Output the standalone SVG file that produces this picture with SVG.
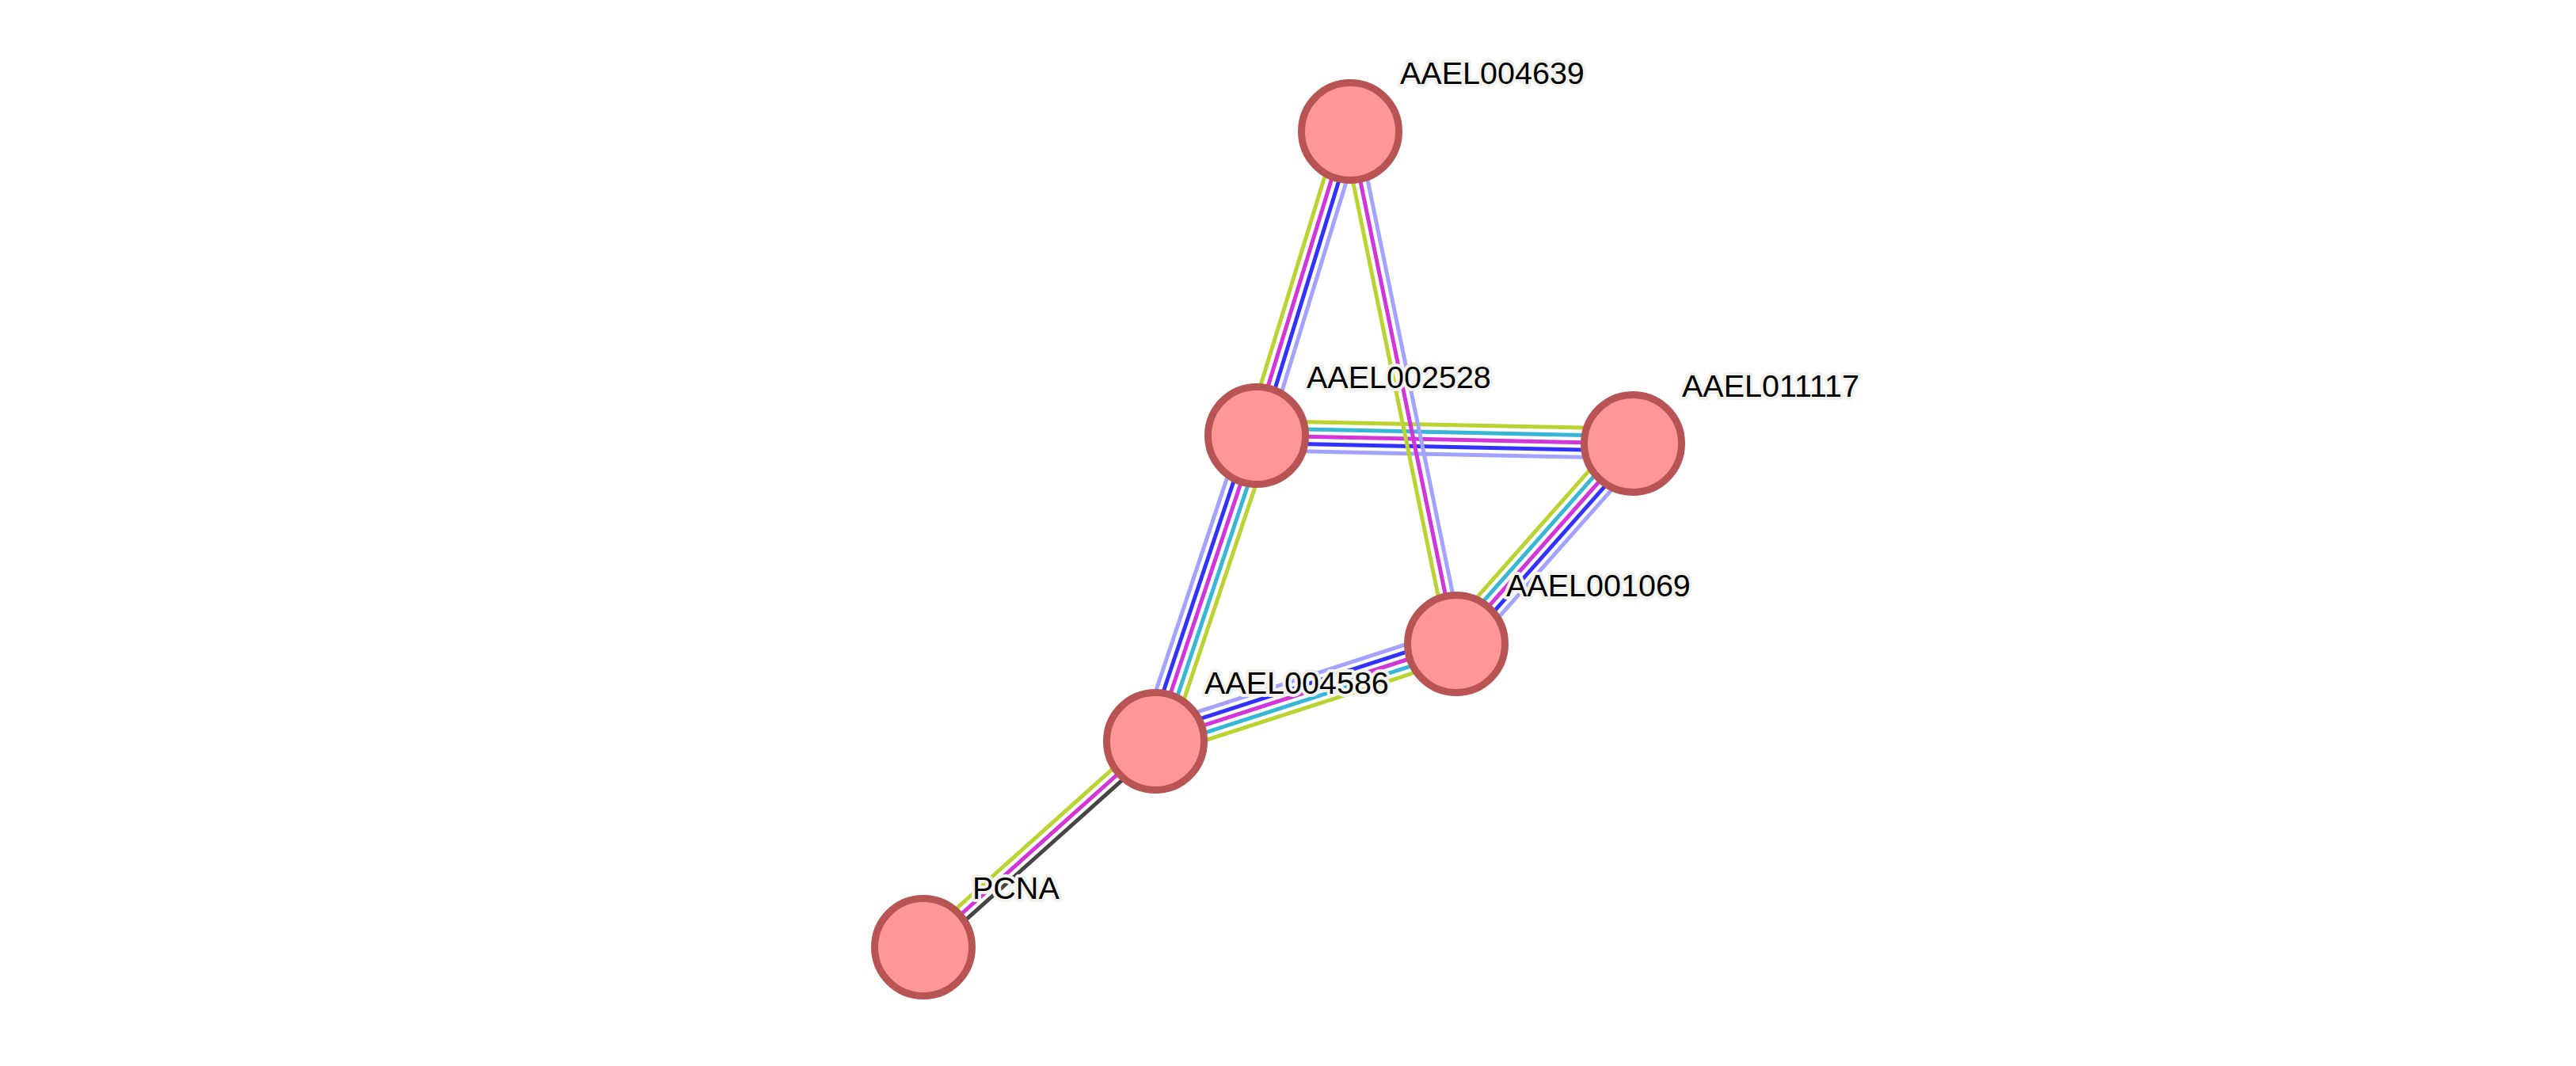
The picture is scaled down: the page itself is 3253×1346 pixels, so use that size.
<svg xmlns="http://www.w3.org/2000/svg" width="3253" height="1346" viewBox="0 0 3253 1346">
<style>
.e line{stroke-width:5;fill:none}
.g{stroke:#BBD331}.c{stroke:#38B6D6}.m{stroke:#D235D8}.b{stroke:#3232FF}.l{stroke:#A3A3FF}.k{stroke:#454545}
.n circle{fill:#FF9797;stroke:#B95454;stroke-width:9}
.n text{font-family:"Liberation Sans",Arial,sans-serif;font-size:39.5px;fill:#000;stroke:#F3F3EE;stroke-width:8;stroke-linejoin:round;paint-order:stroke}
</style>
<rect width="3253" height="1346" fill="#fff"/>
<g id="edges" class="e">
  <g id="e-4639-2528" transform="translate(1705,166) rotate(107.08)">
    <line class="g" x1="0" y1="14" x2="401.7" y2="14"/>
    <line class="m" x1="0" y1="4.7" x2="401.7" y2="4.7"/>
    <line class="b" x1="0" y1="-4.7" x2="401.7" y2="-4.7"/>
    <line class="l" x1="0" y1="-14" x2="401.7" y2="-14"/>
  </g>
  <g id="e-2528-11117" transform="translate(1587,550) rotate(1.21)">
    <line class="g" x1="0" y1="-18.6" x2="475.1" y2="-18.6"/>
    <line class="c" x1="0" y1="-9.3" x2="475.1" y2="-9.3"/>
    <line class="m" x1="0" y1="0" x2="475.1" y2="0"/>
    <line class="b" x1="0" y1="9.3" x2="475.1" y2="9.3"/>
    <line class="l" x1="0" y1="18.6" x2="475.1" y2="18.6"/>
  </g>
  <g id="e-4639-1069" transform="translate(1705,166) rotate(78.38)">
    <line class="g" x1="0" y1="9.3" x2="660.5" y2="9.3"/>
    <line class="m" x1="0" y1="0" x2="660.5" y2="0"/>
    <line class="l" x1="0" y1="-9.3" x2="660.5" y2="-9.3"/>
  </g>
  <g id="e-2528-4586" transform="translate(1587,550) rotate(108.48)">
    <line class="l" x1="0" y1="18.6" x2="407" y2="18.6"/>
    <line class="b" x1="0" y1="9.3" x2="407" y2="9.3"/>
    <line class="m" x1="0" y1="0" x2="407" y2="0"/>
    <line class="c" x1="0" y1="-9.3" x2="407" y2="-9.3"/>
    <line class="g" x1="0" y1="-18.6" x2="407" y2="-18.6"/>
  </g>
  <g id="e-11117-1069" transform="translate(2062,560) rotate(131.52)">
    <line class="g" x1="0" y1="18.6" x2="337.9" y2="18.6"/>
    <line class="c" x1="0" y1="9.3" x2="337.9" y2="9.3"/>
    <line class="m" x1="0" y1="0" x2="337.9" y2="0"/>
    <line class="b" x1="0" y1="-9.3" x2="337.9" y2="-9.3"/>
    <line class="l" x1="0" y1="-18.6" x2="337.9" y2="-18.6"/>
  </g>
  <g id="e-4586-1069" transform="translate(1458,936) rotate(-17.94)">
    <line class="l" x1="0" y1="-18.6" x2="399.4" y2="-18.6"/>
    <line class="b" x1="0" y1="-9.3" x2="399.4" y2="-9.3"/>
    <line class="m" x1="0" y1="0" x2="399.4" y2="0"/>
    <line class="c" x1="0" y1="9.3" x2="399.4" y2="9.3"/>
    <line class="g" x1="0" y1="18.6" x2="399.4" y2="18.6"/>
  </g>
  <g id="e-4586-pcna" transform="translate(1458,936) rotate(138.21)">
    <line class="g" x1="0" y1="9.3" x2="391.6" y2="9.3"/>
    <line class="m" x1="0" y1="0" x2="391.6" y2="0"/>
    <line class="k" x1="0" y1="-9.3" x2="391.6" y2="-9.3"/>
  </g>
</g>
<g id="AAEL004639" class="n"><circle cx="1705" cy="166" r="61.5"/><text x="1768" y="106">AAEL004639</text></g>
<g id="AAEL002528" class="n"><circle cx="1587" cy="550" r="61.5"/><text x="1650" y="490">AAEL002528</text></g>
<g id="AAEL011117" class="n"><circle cx="2062" cy="560" r="61.5"/><text x="2124" y="501">AAEL011117</text></g>
<g id="AAEL001069" class="n"><circle cx="1839" cy="813" r="61.5"/><text x="1902" y="753">AAEL001069</text></g>
<g id="AAEL004586" class="n"><circle cx="1459" cy="936" r="61.5"/><text x="1521" y="876">AAEL004586</text></g>
<g id="PCNA" class="n"><circle cx="1166" cy="1196" r="61.5"/><text x="1228" y="1135">PCNA</text></g>
</svg>
